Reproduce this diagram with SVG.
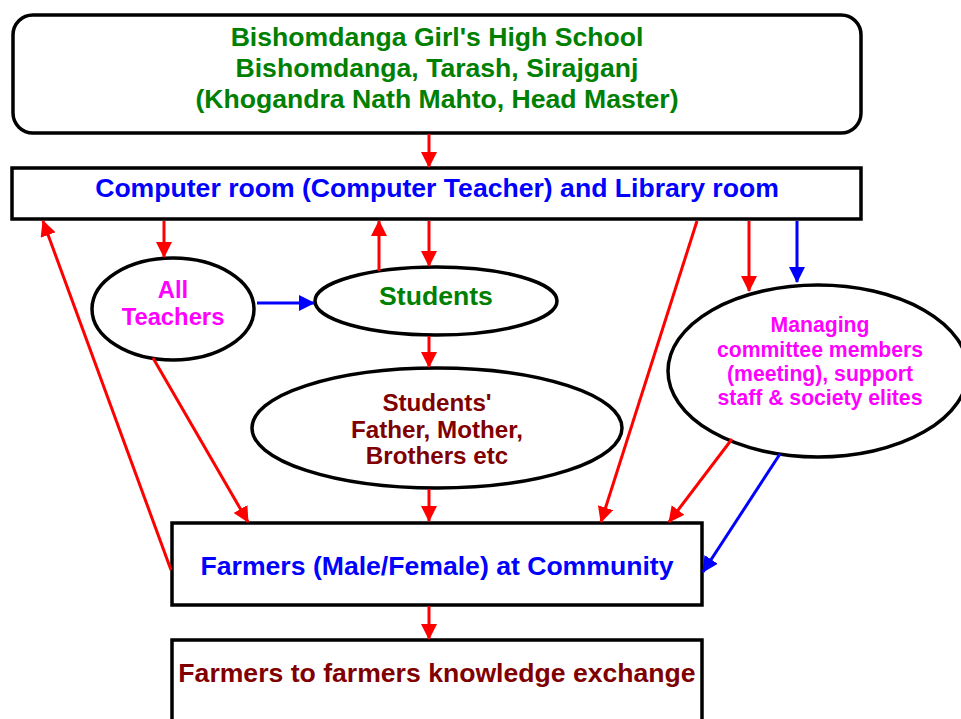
<svg xmlns="http://www.w3.org/2000/svg" width="961" height="719" viewBox="0 0 961 719">
<defs>
<marker id="ar" markerUnits="userSpaceOnUse" markerWidth="16" markerHeight="16" viewBox="0 0 16 16" refX="15" refY="8" orient="auto"><path d="M0,0 L16,8 L0,16 z" fill="#FF0000"/></marker>
<marker id="ab" markerUnits="userSpaceOnUse" markerWidth="16" markerHeight="16" viewBox="0 0 16 16" refX="15" refY="8" orient="auto"><path d="M0,0 L16,8 L0,16 z" fill="#0000FF"/></marker>
</defs>
<style>
.box{fill:#fff;stroke:#000;stroke-width:3.5}
.t{font-family:"Liberation Sans",Arial,sans-serif;font-weight:bold;text-anchor:middle}
.r{stroke:#FF0000;stroke-width:3;fill:none;marker-end:url(#ar)}
.b{stroke:#0000FF;stroke-width:3;fill:none;marker-end:url(#ab)}
</style>
<rect width="961" height="719" fill="#fff"/>
<g id="school">
<rect class="box" x="13" y="15" width="848" height="118" rx="20"/>
<text class="t" font-size="26.6" fill="#008000"><tspan x="437" y="46">Bishomdanga Girl's High School</tspan><tspan x="437" y="77">Bishomdanga, Tarash, Sirajganj</tspan><tspan x="437" y="108">(Khogandra Nath Mahto, Head Master)</tspan></text>
</g>
<g id="computer">
<rect class="box" x="12" y="168" width="849" height="51"/>
<text class="t" x="437" y="197" font-size="26.6" fill="#0000FF">Computer room (Computer Teacher) and Library room</text>
</g>
<g id="teachers">
<ellipse class="box" cx="173" cy="309" rx="81" ry="51"/>
<text class="t" font-size="23.8" fill="#FF00FF"><tspan x="173" y="298">All</tspan><tspan x="173" y="325">Teachers</tspan></text>
</g>
<g id="students">
<ellipse class="box" cx="436" cy="301" rx="121" ry="34"/>
<text class="t" x="436" y="305" font-size="26.6" fill="#008000">Students</text>
</g>
<g id="parents">
<ellipse class="box" cx="437" cy="428" rx="185" ry="60"/>
<text class="t" font-size="24.2" fill="#800000"><tspan x="437" y="411">Students'</tspan><tspan x="437" y="438">Father, Mother,</tspan><tspan x="437" y="464">Brothers etc</tspan></text>
</g>
<g id="managing">
<ellipse class="box" cx="818" cy="371" rx="150" ry="86"/>
<text class="t" font-size="21.2" fill="#FF00FF"><tspan x="820" y="332">Managing</tspan><tspan x="820" y="357">committee members</tspan><tspan x="820" y="381">(meeting), support</tspan><tspan x="820" y="405">staff &amp; society elites</tspan></text>
</g>
<g id="farmers">
<rect class="box" x="172" y="523" width="530" height="82"/>
<text class="t" x="437" y="575" font-size="26.6" fill="#0000FF">Farmers (Male/Female) at Community</text>
</g>
<g id="exchange">
<rect class="box" x="172" y="640" width="530" height="100"/>
<text class="t" x="437" y="682" font-size="26.6" fill="#800000">Farmers to farmers knowledge exchange</text>
</g>
<g id="connectors">
<line class="r" x1="429" y1="134" x2="429" y2="167"/>
<line class="r" x1="164" y1="221" x2="164" y2="257"/>
<line class="r" x1="379" y1="271" x2="379" y2="221"/>
<line class="r" x1="429" y1="221" x2="429" y2="266"/>
<line class="b" x1="257" y1="303" x2="314" y2="303"/>
<line class="r" x1="429" y1="336" x2="429" y2="367"/>
<line class="r" x1="429" y1="489" x2="429" y2="521"/>
<line class="r" x1="429" y1="606" x2="429" y2="639"/>
<line class="r" x1="171" y1="570" x2="43" y2="221"/>
<line class="r" x1="153" y1="358" x2="248" y2="522"/>
<line class="r" x1="697" y1="221" x2="601" y2="522"/>
<line class="r" x1="749" y1="221" x2="749" y2="291"/>
<line class="b" x1="797" y1="221" x2="797" y2="282"/>
<line class="r" x1="732" y1="439" x2="669" y2="522"/>
<line class="b" x1="780" y1="454" x2="703" y2="572"/>
</g>
</svg>
